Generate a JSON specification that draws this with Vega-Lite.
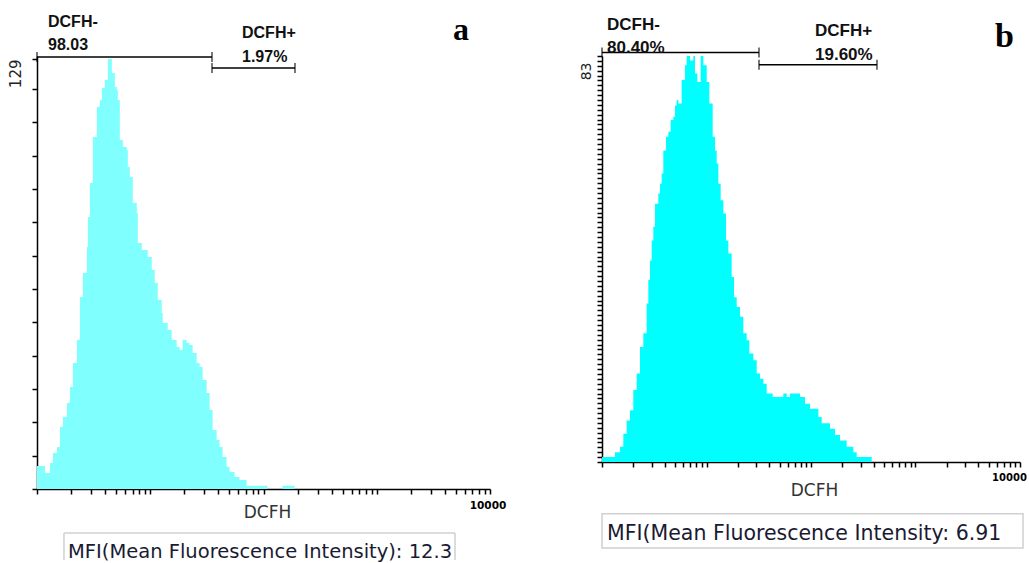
{
  "$schema": "https://vega.github.io/schema/vega-lite/v6.json",
  "background": "white",
  "padding": {"left": 8, "top": 14, "right": 0, "bottom": 0},
  "spacing": 112,
  "bounds": "flush",
  "config": {
    "view": {"stroke": null},
    "axis": {"grid": false, "domainColor": "#000", "tickColor": "#000", "domainWidth": 1.5, "tickWidth": 1.5, "tickSize": 5, "tickCount": 1000, "labelOverlap": false, "labelFlush": false, "labelBound": false, "labelColor": "#222"}
  },
  "datasets": {
    "histA": [
      {"x": 1, "count": 6.9}, {"x": 1.176, "count": 4.8}, {"x": 1.302, "count": 7.8}, {"x": 1.383, "count": 10.8},
      {"x": 1.5, "count": 12.6}, {"x": 1.595, "count": 18.6}, {"x": 1.694, "count": 21.6}, {"x": 1.838, "count": 25.8},
      {"x": 1.953, "count": 30.6}, {"x": 2.076, "count": 37.8}, {"x": 2.251, "count": 44.7}, {"x": 2.392, "count": 57.6},
      {"x": 2.543, "count": 64.8}, {"x": 2.757, "count": 72.6}, {"x": 2.814, "count": 81.6}, {"x": 2.931, "count": 91.8},
      {"x": 3.114, "count": 105.6}, {"x": 3.378, "count": 114.6}, {"x": 3.59, "count": 116.7}, {"x": 3.739, "count": 120.3},
      {"x": 3.973, "count": 122.7}, {"x": 4.223, "count": 129}, {"x": 4.579, "count": 124.8}, {"x": 4.867, "count": 120.6},
      {"x": 5.069, "count": 119.7}, {"x": 5.172, "count": 116.7}, {"x": 5.386, "count": 104.7}, {"x": 5.724, "count": 102.6},
      {"x": 6.209, "count": 101.7}, {"x": 6.337, "count": 96.6}, {"x": 6.598, "count": 93.6}, {"x": 7.014, "count": 85.8},
      {"x": 7.603, "count": 82.8}, {"x": 7.76, "count": 73.8}, {"x": 8.418, "count": 71.7}, {"x": 8.944, "count": 71.7},
      {"x": 9.506, "count": 69.6}, {"x": 10.31, "count": 65.7}, {"x": 10.96, "count": 61.8}, {"x": 11.65, "count": 56.7},
      {"x": 12.63, "count": 52.8}, {"x": 12.89, "count": 49.8}, {"x": 14.26, "count": 47.7}, {"x": 15.47, "count": 44.7},
      {"x": 17.12, "count": 42.6}, {"x": 18.19, "count": 41.7}, {"x": 19.33, "count": 44.7}, {"x": 20.97, "count": 43.8},
      {"x": 22.28, "count": 43.2}, {"x": 23.68, "count": 40.8}, {"x": 25.69, "count": 37.8}, {"x": 27.3, "count": 36.6},
      {"x": 29.01, "count": 32.7}, {"x": 31.47, "count": 28.8}, {"x": 33.44, "count": 23.7}, {"x": 35.53, "count": 17.7},
      {"x": 38.54, "count": 14.7}, {"x": 40.96, "count": 12.6}, {"x": 43.53, "count": 9.6}, {"x": 47.21, "count": 6.6},
      {"x": 50.17, "count": 5.1}, {"x": 55.54, "count": 3.6}, {"x": 61.45, "count": 2.7}, {"x": 70.84, "count": 1},
      {"x": 108.4, "count": 0}, {"x": 147.0, "count": 1}, {"x": 187.6, "count": 0}
    ],
    "histB": [
      {"x": 1, "count": 1.0}, {"x": 1.331, "count": 2.0}, {"x": 1.486, "count": 3.1}, {"x": 1.6, "count": 5.8},
      {"x": 1.722, "count": 8.5}, {"x": 1.853, "count": 10.6}, {"x": 1.994, "count": 14.7}, {"x": 2.147, "count": 18.1},
      {"x": 2.31, "count": 23.5}, {"x": 2.486, "count": 26.3}, {"x": 2.676, "count": 32.4}, {"x": 2.776, "count": 37.2},
      {"x": 2.88, "count": 41.2}, {"x": 2.988, "count": 45.3}, {"x": 3.099, "count": 48.1}, {"x": 3.215, "count": 52.8},
      {"x": 3.46, "count": 54.9}, {"x": 3.589, "count": 56.9}, {"x": 3.724, "count": 59.0}, {"x": 3.863, "count": 63.7},
      {"x": 4.097, "count": 66.5}, {"x": 4.313, "count": 67.5}, {"x": 4.541, "count": 69.9}, {"x": 4.815, "count": 70.6},
      {"x": 4.995, "count": 72.9}, {"x": 5.182, "count": 74.0}, {"x": 5.377, "count": 73.3}, {"x": 5.786, "count": 78.1},
      {"x": 6.229, "count": 81.1}, {"x": 6.461, "count": 83}, {"x": 6.953, "count": 82.1}, {"x": 7.482, "count": 83},
      {"x": 7.762, "count": 79.4}, {"x": 8.173, "count": 77.7}, {"x": 8.796, "count": 83}, {"x": 9.326, "count": 81.1},
      {"x": 10.04, "count": 77.7}, {"x": 10.64, "count": 73.3}, {"x": 11.46, "count": 66.5}, {"x": 12.06, "count": 63.7},
      {"x": 12.51, "count": 61.0}, {"x": 12.98, "count": 56.9}, {"x": 13.66, "count": 53.5}, {"x": 14.49, "count": 50.8},
      {"x": 15.37, "count": 45.3}, {"x": 16.18, "count": 42.6}, {"x": 17.41, "count": 37.8}, {"x": 18.34, "count": 33.7},
      {"x": 19.45, "count": 31.7}, {"x": 20.92, "count": 29.7}, {"x": 22.51, "count": 26.3}, {"x": 24.24, "count": 24.9},
      {"x": 25.7, "count": 22.2}, {"x": 28.07, "count": 20.8}, {"x": 30.21, "count": 18.1}, {"x": 32.51, "count": 17.0},
      {"x": 34.99, "count": 16.0}, {"x": 37.65, "count": 14.0}, {"x": 42.97, "count": 13.3}, {"x": 54.36, "count": 14.0},
      {"x": 58.51, "count": 13.3}, {"x": 62.95, "count": 14.0}, {"x": 78.46, "count": 13.3}, {"x": 87.61, "count": 11.9},
      {"x": 97.81, "count": 10.9}, {"x": 117.6, "count": 9.2}, {"x": 126.6, "count": 7.9}, {"x": 152.0, "count": 6.8},
      {"x": 169.7, "count": 5.5}, {"x": 189.5, "count": 4.4}, {"x": 219.5, "count": 3.1}, {"x": 254.2, "count": 2.0},
      {"x": 273.5, "count": 1.0}, {"x": 380.8, "count": 0}
    ],
    "gatesA": [
      {"gate": "DCFH-", "start": 1, "end": 35.1, "level": 129.6},
      {"gate": "DCFH+", "start": 35.1, "end": 189.7, "level": 126.3}
    ],
    "gatesB": [
      {"gate": "DCFH-", "start": 1, "end": 31.8, "level": 83.7},
      {"gate": "DCFH+", "start": 31.8, "end": 428, "level": 81.2}
    ]
  },
  "hconcat": [
    {
      "width": 453,
      "height": 433,
      "layer": [
        {
          "data": {"name": "histA"},
          "mark": {"type": "area", "interpolate": "step-after", "color": "#80FFFF", "opacity": 1},
          "encoding": {
            "x": {"field": "x", "type": "quantitative",
              "scale": {"type": "log", "domain": [1, 10000]},
              "axis": {"values": [1,2,3,4,5,6,7,8,9,10,20,30,40,50,60,70,80,90,100,200,300,400,500,600,700,800,900,1000,2000,3000,4000,5000,6000,7000,8000,9000,10000],
                "tickCount": 1000,
                "labelExpr": "datum.value == 10000 ? '10000' : ''",
                "labelFont": "DejaVu Sans", "labelFontWeight": "bold", "labelFontSize": 10.5, "labelOffset": -2.5, "labelPadding": 6, "labelColor": "#000",
                "title": "DCFH", "titleFont": "DejaVu Sans", "titleFontSize": 17, "titleFontWeight": "normal", "titleColor": "#333",
                "titleX": 230, "titleY": 28, "titleBaseline": "alphabetic"}},
            "y": {"field": "count", "type": "quantitative", "stack": null,
              "scale": {"domain": [0, 129.9], "nice": false, "zero": true},
              "axis": {"values": [0,10,20,30,40,50,60,70,80,90,100,110,120,129],
                "tickCount": 1000,
                "labelExpr": "datum.value == 129 ? '129' : ''",
                "labelAngle": 270, "labelAlign": "right", "labelBaseline": "bottom", "labelPadding": 9,
                "labelFont": "DejaVu Sans", "labelFontSize": 15, "title": null}}
          }
        },
        {
          "data": {"name": "gatesA"},
          "mark": {"type": "rule", "color": "#000", "strokeWidth": 1.5},
          "encoding": {"x": {"field": "start", "type": "quantitative"}, "x2": {"field": "end"}, "y": {"field": "level", "type": "quantitative"}}
        },
        {
          "data": {"name": "gatesA"},
          "mark": {"type": "tick", "orient": "vertical", "color": "#000", "size": 10, "thickness": 1.5},
          "encoding": {"x": {"field": "start", "type": "quantitative"}, "y": {"field": "level", "type": "quantitative"}}
        },
        {
          "data": {"name": "gatesA"},
          "mark": {"type": "tick", "orient": "vertical", "color": "#000", "size": 10, "thickness": 1.5},
          "encoding": {"x": {"field": "end", "type": "quantitative"}, "y": {"field": "level", "type": "quantitative"}}
        },
        {
          "data": {"values": [{}]},
          "mark": {"type": "text", "align": "left", "baseline": "alphabetic", "font": "Liberation Sans", "fontWeight": "bold", "fontSize": 16, "color": "#111", "text": "DCFH-"},
          "encoding": {"x": {"datum": 1.251, "type": "quantitative"}, "y": {"datum": 138.6, "type": "quantitative"}}
        },
        {
          "data": {"values": [{}]},
          "mark": {"type": "text", "align": "left", "baseline": "alphabetic", "font": "Liberation Sans", "fontWeight": "bold", "fontSize": 16, "color": "#111", "text": "98.03"},
          "encoding": {"x": {"datum": 1.251, "type": "quantitative"}, "y": {"datum": 131.7, "type": "quantitative"}}
        },
        {
          "data": {"values": [{}]},
          "mark": {"type": "text", "align": "left", "baseline": "alphabetic", "font": "Liberation Sans", "fontWeight": "bold", "fontSize": 16, "color": "#111", "text": "DCFH+"},
          "encoding": {"x": {"datum": 64.6, "type": "quantitative"}, "y": {"datum": 135.3, "type": "quantitative"}}
        },
        {
          "data": {"values": [{}]},
          "mark": {"type": "text", "align": "left", "baseline": "alphabetic", "font": "Liberation Sans", "fontWeight": "bold", "fontSize": 16, "color": "#111", "text": "1.97%"},
          "encoding": {"x": {"datum": 64.6, "type": "quantitative"}, "y": {"datum": 128.1, "type": "quantitative"}}
        },
        {
          "data": {"values": [{}]},
          "mark": {"type": "text", "align": "left", "baseline": "alphabetic", "font": "Liberation Serif", "fontWeight": "bold", "fontSize": 32, "color": "#000", "text": "a"},
          "encoding": {"x": {"datum": 4714, "type": "quantitative"}, "y": {"datum": 134.7, "type": "quantitative"}}
        },
        {
          "data": {"values": [{}]},
          "mark": {"type": "rule", "color": "#d0d0d0", "strokeWidth": 1.5},
          "encoding": {"x": {"datum": 1.731, "type": "quantitative"}, "x2": {"datum": 4909}, "y": {"datum": -13.2, "type": "quantitative"}}
        },
        {
          "data": {"values": [{}]},
          "mark": {"type": "rule", "color": "#d0d0d0", "strokeWidth": 1.5},
          "encoding": {"x": {"datum": 1.731, "type": "quantitative"}, "y": {"datum": -13.2, "type": "quantitative"}, "y2": {"datum": -21.3}}
        },
        {
          "data": {"values": [{}]},
          "mark": {"type": "rule", "color": "#d0d0d0", "strokeWidth": 1.5},
          "encoding": {"x": {"datum": 4909, "type": "quantitative"}, "y": {"datum": -13.2, "type": "quantitative"}, "y2": {"datum": -21.3}}
        },
        {
          "data": {"values": [{}]},
          "mark": {"type": "text", "align": "left", "baseline": "alphabetic", "font": "DejaVu Sans", "fontSize": 19.5, "color": "#1a1a33", "text": "MFI(Mean Fluorescence Intensity): 12.3"},
          "encoding": {"x": {"datum": 1.878, "type": "quantitative"}, "y": {"datum": -20.7, "type": "quantitative"}}
        }
      ]
    },
    {
      "width": 418,
      "height": 406,
      "layer": [
        {
          "data": {"name": "histB"},
          "mark": {"type": "area", "interpolate": "step-after", "color": "#00FFFF", "opacity": 1},
          "encoding": {
            "x": {"field": "x", "type": "quantitative",
              "scale": {"type": "log", "domain": [1, 10000]},
              "axis": {"values": [1,2,3,4,5,6,7,8,9,10,20,30,40,50,60,70,80,90,100,200,300,400,500,600,700,800,900,1000,2000,3000,4000,5000,6000,7000,8000,9000,10000],
                "tickCount": 1000,
                "labelExpr": "datum.value == 10000 ? '10000' : ''",
                "labelFont": "DejaVu Sans", "labelFontWeight": "bold", "labelFontSize": 10, "labelOffset": -11, "labelPadding": 5, "labelColor": "#000",
                "title": "DCFH", "titleFont": "DejaVu Sans", "titleFontSize": 17, "titleFontWeight": "normal", "titleColor": "#333",
                "titleX": 212, "titleY": 33, "titleBaseline": "alphabetic"}},
            "y": {"field": "count", "type": "quantitative", "stack": null,
              "scale": {"domain": [0, 83], "nice": false, "zero": true},
              "axis": {"values": [0,1,2,3,4,5,6,7,8,9,10,11,12,13,14,15,16,17,18,19,20,21,22,23,24,25,26,27,28,29,30,31,32,33,34,35,36,37,38,39,40,41,42,43,44,45,46,47,48,49,50,51,52,53,54,55,56,57,58,59,60,61,62,63,64,65,66,67,68,69,70,71,72,73,74,75,76,77,78,79,80,81,82,83],
                "tickCount": 1000,
                "labelExpr": "datum.value == 83 ? '83' : ''",
                "labelAngle": 270, "labelAlign": "right", "labelBaseline": "bottom", "labelPadding": 4, "labelOffset": 6,
                "labelFont": "DejaVu Sans", "labelFontSize": 14, "title": null}}
          }
        },
        {
          "data": {"name": "gatesB"},
          "mark": {"type": "rule", "color": "#000", "strokeWidth": 1.5},
          "encoding": {"x": {"field": "start", "type": "quantitative"}, "x2": {"field": "end"}, "y": {"field": "level", "type": "quantitative"}}
        },
        {
          "data": {"name": "gatesB"},
          "mark": {"type": "tick", "orient": "vertical", "color": "#000", "size": 10, "thickness": 1.5},
          "encoding": {"x": {"field": "start", "type": "quantitative"}, "y": {"field": "level", "type": "quantitative"}}
        },
        {
          "data": {"name": "gatesB"},
          "mark": {"type": "tick", "orient": "vertical", "color": "#000", "size": 10, "thickness": 1.5},
          "encoding": {"x": {"field": "end", "type": "quantitative"}, "y": {"field": "level", "type": "quantitative"}}
        },
        {
          "data": {"values": [{}]},
          "mark": {"type": "text", "align": "left", "baseline": "alphabetic", "font": "Liberation Sans", "fontWeight": "bold", "fontSize": 17, "color": "#111", "text": "DCFH-"},
          "encoding": {"x": {"datum": 1.117, "type": "quantitative"}, "y": {"datum": 88.3, "type": "quantitative"}}
        },
        {
          "data": {"values": [{}]},
          "mark": {"type": "text", "align": "left", "baseline": "alphabetic", "font": "Liberation Sans", "fontWeight": "bold", "fontSize": 17, "color": "#111", "text": "80.40%"},
          "encoding": {"x": {"datum": 1.117, "type": "quantitative"}, "y": {"datum": 83.6, "type": "quantitative"}}
        },
        {
          "data": {"values": [{}]},
          "mark": {"type": "text", "align": "left", "baseline": "alphabetic", "font": "Liberation Sans", "fontWeight": "bold", "fontSize": 17, "color": "#111", "text": "DCFH+"},
          "encoding": {"x": {"datum": 109.2, "type": "quantitative"}, "y": {"datum": 87.1, "type": "quantitative"}}
        },
        {
          "data": {"values": [{}]},
          "mark": {"type": "text", "align": "left", "baseline": "alphabetic", "font": "Liberation Sans", "fontWeight": "bold", "fontSize": 17, "color": "#111", "text": "19.60%"},
          "encoding": {"x": {"datum": 109.2, "type": "quantitative"}, "y": {"datum": 82.2, "type": "quantitative"}}
        },
        {
          "data": {"values": [{}]},
          "mark": {"type": "text", "align": "left", "baseline": "alphabetic", "font": "Liberation Serif", "fontWeight": "bold", "fontSize": 34, "color": "#000", "text": "b"},
          "encoding": {"x": {"datum": 5765, "type": "quantitative"}, "y": {"datum": 84.8, "type": "quantitative"}}
        },
        {
          "data": {"values": [{}]},
          "mark": {"type": "rect", "fill": null, "fillOpacity": 0, "stroke": "#d0d0d0", "strokeWidth": 1.5},
          "encoding": {"x": {"datum": 1.0, "type": "quantitative"}, "x2": {"datum": 10684}, "y": {"datum": -10.6, "type": "quantitative"}, "y2": {"datum": -17.6}}
        },
        {
          "data": {"values": [{}]},
          "mark": {"type": "text", "align": "left", "baseline": "alphabetic", "font": "DejaVu Sans", "fontSize": 20.5, "color": "#1a1a33", "text": "MFI(Mean Fluorescence Intensity: 6.91"},
          "encoding": {"x": {"datum": 1.117, "type": "quantitative"}, "y": {"datum": -15.9, "type": "quantitative"}}
        }
      ]
    }
  ]
}
